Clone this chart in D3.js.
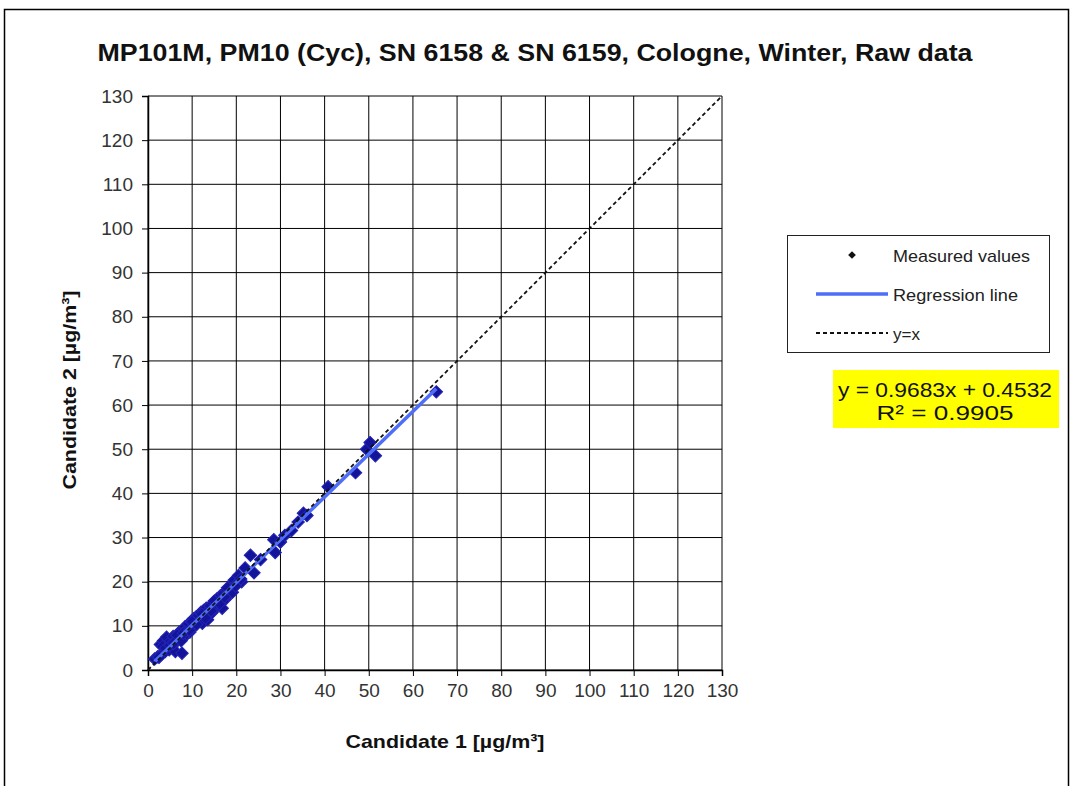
<!DOCTYPE html>
<html>
<head>
<meta charset="utf-8">
<script src="https://cdn.jsdelivr.net/npm/d3@7"></script>
<style>
  body { margin: 0; background: #fff; }
  text { font-family: "Liberation Sans", Arial, sans-serif; }
</style>
</head>
<body>
<svg id="chart" width="1073" height="786"></svg>
<script>
// data
var candidate1 = [
  1.5, 2.2, 2.8, 3.1, 3.5, 3.9, 4.2, 4.5, 4.8, 5.1,
  5.4, 5.7, 6.0, 6.2, 6.5, 6.8, 7.0, 7.3, 7.7, 7.9,
  8.2, 8.4, 8.7, 9.0, 9.2, 9.5, 9.8, 10.1, 10.3, 10.6,
  10.9, 11.2, 11.5, 11.8, 12.0, 12.3, 12.6, 12.9, 13.2, 13.5,
  13.8, 14.1, 14.5, 14.8, 15.2, 15.6, 16.0, 16.4, 16.8, 17.1,
  17.5, 17.9, 18.3, 18.7, 19.1, 19.5, 20.0, 20.5, 21.2, 22.0,
  23.2, 24.0, 25.5, 28.5, 28.8, 30.0, 31.0, 32.5, 34.0, 35.2,
  36.0, 40.8, 47.0, 49.5, 50.3, 51.5, 65.3,
  2.5, 3.3, 4.0, 5.0, 5.8, 6.6, 7.5, 8.0, 9.4, 10.0,
  11.0, 12.2, 13.0, 14.3, 15.0, 16.2, 17.3, 18.0, 19.8, 21.0
];
var candidate2 = [
  2.5, 3.0, 5.8, 3.6, 6.6, 4.2, 7.4, 5.0, 4.6, 6.5,
  5.2, 7.6, 6.4, 4.2, 7.8, 6.8, 8.5, 7.2, 3.8, 8.9,
  7.5, 9.8, 8.2, 9.3, 10.5, 8.6, 11.0, 9.6, 11.6, 10.2,
  12.0, 10.8, 12.4, 11.2, 13.1, 10.6, 13.5, 12.4, 14.0, 11.4,
  13.6, 14.5, 13.0, 15.2, 14.0, 16.1, 15.4, 16.8, 14.0, 17.2,
  16.0, 18.2, 17.1, 19.0, 17.6, 20.3, 19.5, 21.4, 20.0, 23.1,
  26.0, 22.0, 25.0, 29.5, 26.6, 29.0, 30.5, 31.6, 33.5, 35.5,
  35.0, 41.5, 44.7, 50.0, 51.5, 48.5, 63.0,
  2.9, 5.3, 4.9, 5.6, 6.0, 7.9, 6.6, 8.3, 9.0, 10.9,
  10.3, 12.6, 11.8, 13.4, 15.6, 15.0, 16.6, 18.6, 19.0, 20.6
];
var slope = 0.9683, intercept = 0.4532, r2 = 0.9905;
var ticks = d3.range(0, 131, 10);

var svg = d3.select("#chart");

// outer frame
svg.append("path")
    .attr("d", "M4.5,800 L4.5,9.5 L1068.5,9.5 L1068.5,800")
    .attr("fill", "none").attr("stroke", "#000").attr("stroke-width", 1.5);

var plotLeft = 148, plotTop = 96, plotSize = 574;
var x = d3.scaleLinear().domain([0, 130]).range([plotLeft, plotLeft + plotSize]),
    y = d3.scaleLinear().domain([0, 130]).range([plotTop + plotSize, plotTop]);

var g = svg.append("g");

// grid
g.selectAll(".gx").data(ticks).enter().append("line")
    .attr("x1", function(d) { return x(d); }).attr("x2", function(d) { return x(d); })
    .attr("y1", y(0)).attr("y2", y(130))
    .attr("stroke", "#000").attr("stroke-width", 1);
g.selectAll(".gy").data(ticks).enter().append("line")
    .attr("y1", function(d) { return y(d); }).attr("y2", function(d) { return y(d); })
    .attr("x1", x(0)).attr("x2", x(130))
    .attr("stroke", "#000").attr("stroke-width", 1);

// axes
var xAxis = g.append("g").attr("transform", "translate(0," + y(0) + ")")
    .call(d3.axisBottom(x).tickValues(ticks).tickSize(6).tickPadding(8).tickFormat(d3.format("d")));
var yAxis = g.append("g").attr("transform", "translate(" + x(0) + ",0)")
    .call(d3.axisLeft(y).tickValues(ticks).tickSize(6).tickPadding(9).tickFormat(d3.format("d")));
[xAxis, yAxis].forEach(function(a) {
  a.select(".domain").attr("stroke", "#000").attr("stroke-width", 1.5);
  a.selectAll("line").attr("stroke", "#000");
  a.selectAll("text").attr("font-size", 19).attr("fill", "#333")
      .attr("font-family", "Liberation Sans, Arial, sans-serif");
});

// points (square turned 45 degrees, like the spreadsheet diamond)
var pts = candidate1.map(function(v, i) { return [v, candidate2[i]]; });
g.selectAll(".pt").data(pts).enter().append("path")
    .attr("d", d3.symbol().type(d3.symbolSquare).size(78))
    .attr("transform", function(d) { return "translate(" + x(d[0]) + "," + y(d[1]) + ") rotate(45)"; })
    .attr("fill", "#14149a").attr("stroke", "#2424b4").attr("stroke-width", 1);

// regression line
var xmin = d3.min(candidate1), xmax = d3.max(candidate1);
g.append("line")
    .attr("x1", x(xmin)).attr("y1", y(slope * xmin + intercept))
    .attr("x2", x(xmax)).attr("y2", y(slope * xmax + intercept))
    .attr("stroke", "#4f6ef7").attr("stroke-width", 3.5);

// y = x
g.append("line")
    .attr("x1", x(0)).attr("y1", y(0)).attr("x2", x(130)).attr("y2", y(130))
    .attr("stroke", "#111").attr("stroke-width", 1.8).attr("stroke-dasharray", "4,3");

// title and axis titles
svg.append("text").attr("x", 535).attr("y", 61).attr("text-anchor", "middle")
    .attr("font-size", 24).attr("font-weight", "bold").attr("fill", "#111")
    .attr("textLength", 875).attr("lengthAdjust", "spacingAndGlyphs")
    .text("MP101M, PM10 (Cyc), SN 6158 & SN 6159, Cologne, Winter, Raw data");
svg.append("text").attr("x", 445).attr("y", 748).attr("text-anchor", "middle")
    .attr("font-size", 19).attr("font-weight", "bold").attr("fill", "#111")
    .attr("textLength", 199).attr("lengthAdjust", "spacingAndGlyphs")
    .text("Candidate 1 [µg/m³]");
svg.append("text").attr("transform", "translate(76,390) rotate(-90)").attr("text-anchor", "middle")
    .attr("font-size", 19).attr("font-weight", "bold").attr("fill", "#111")
    .attr("textLength", 199).attr("lengthAdjust", "spacingAndGlyphs")
    .text("Candidate 2 [µg/m³]");

// legend
var lg = svg.append("g");
lg.append("rect").attr("x", 787.5).attr("y", 235.5).attr("width", 262).attr("height", 117)
    .attr("fill", "#fff").attr("stroke", "#222").attr("stroke-width", 1);
lg.append("path").attr("d", d3.symbol().type(d3.symbolSquare).size(30))
    .attr("transform", "translate(852,255) rotate(45)").attr("fill", "#111");
lg.append("line").attr("x1", 816).attr("x2", 888).attr("y1", 294).attr("y2", 294)
    .attr("stroke", "#4f6ef7").attr("stroke-width", 3.5);
lg.append("line").attr("x1", 816).attr("x2", 888).attr("y1", 333).attr("y2", 333)
    .attr("stroke", "#111").attr("stroke-width", 1.8).attr("stroke-dasharray", "4,3");
[["Measured values", 256, 137], ["Regression line", 295, 125], ["y=x", 334, 27]].forEach(function(e) {
  lg.append("text").attr("x", 893).attr("y", e[1]).attr("dy", "0.35em")
      .attr("font-size", 17).attr("fill", "#222")
      .attr("textLength", e[2]).attr("lengthAdjust", "spacingAndGlyphs").text(e[0]);
});

// equation box
svg.append("rect").attr("x", 833).attr("y", 370).attr("width", 226).attr("height", 58).attr("fill", "#ffff00");
svg.append("text").attr("x", 945).attr("y", 397).attr("text-anchor", "middle")
    .attr("font-size", 20).attr("fill", "#111")
    .attr("textLength", 214).attr("lengthAdjust", "spacingAndGlyphs")
    .text("y = " + slope.toFixed(4) + "x + " + intercept.toFixed(4));
svg.append("text").attr("x", 945).attr("y", 420).attr("text-anchor", "middle")
    .attr("font-size", 20).attr("fill", "#111")
    .attr("textLength", 137).attr("lengthAdjust", "spacingAndGlyphs")
    .text("R² = " + r2.toFixed(4));
</script>
</body>
</html>
